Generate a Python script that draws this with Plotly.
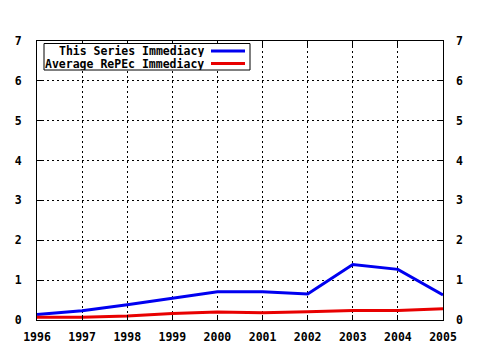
import plotly.graph_objects as go

# Yearly immediacy index values
years = [1996, 1997, 1998, 1999, 2000, 2001, 2002, 2003, 2004, 2005]
series_immediacy = [0.14, 0.23, 0.38, 0.55, 0.71, 0.71, 0.65, 1.39, 1.27, 0.63]
repec_immediacy = [0.07, 0.07, 0.10, 0.16, 0.20, 0.18, 0.21, 0.24, 0.24, 0.28]
y_ticks = [0, 1, 2, 3, 4, 5, 6, 7]

legend_labels = ["This Series Immediacy", "Average RePEc Immediacy"]
colors = ["#0000f0", "#e80000"]

FONT = dict(family="DejaVu Sans Mono", size=11.5, color="black", weight="bold")

fig = go.Figure()
fig.add_trace(go.Scatter(x=years, y=series_immediacy, mode="lines",
                         line=dict(color=colors[0], width=3), name=legend_labels[0]))
fig.add_trace(go.Scatter(x=years, y=repec_immediacy, mode="lines",
                         line=dict(color=colors[1], width=3), name=legend_labels[1]))
# invisible trace so the right-hand axis is drawn
fig.add_trace(go.Scatter(x=[years[0]], y=[0], yaxis="y2", mode="markers",
                         marker=dict(opacity=0), hoverinfo="skip", showlegend=False))

grid = dict(showgrid=True, gridcolor="black", gridwidth=1, griddash="2px,3px")

fig.update_layout(
    width=480, height=350,
    margin=dict(l=37, r=37, t=41, b=30, autoexpand=False),
    paper_bgcolor="white", plot_bgcolor="white",
    showlegend=False,
    font=FONT,
    xaxis=dict(range=[years[0], years[-1]], tickvals=years, ticks="inside", ticklen=5,
               tickcolor="black", showline=True, linecolor="black", linewidth=1,
               mirror="ticks", zeroline=False, ticklabelstandoff=6, automargin=False,
               **grid),
    yaxis=dict(range=[0, 7], tickvals=y_ticks, ticks="inside", ticklen=5,
               tickcolor="black", showline=True, linecolor="black", linewidth=1,
               mirror=True, zeroline=False, ticklabelstandoff=12, automargin=False,
               **grid),
    yaxis2=dict(range=[0, 7], tickvals=y_ticks, overlaying="y", side="right",
                ticks="inside", ticklen=5, tickcolor="black", showgrid=False,
                zeroline=False, showline=False, ticklabelstandoff=12, automargin=False),
)

# Legend drawn in gnuplot style: right-aligned text followed by the line sample
x0, y0, w, h = 37, 320, 406, 279
px = lambda v: (v - x0) / w
py = lambda v: (y0 - v) / h

fig.add_shape(type="rect", xref="paper", yref="paper",
              x0=px(44), x1=px(250), y0=py(70), y1=py(43.5),
              line=dict(color="black", width=1), fillcolor="white")
for i, (label, col) in enumerate(zip(legend_labels, colors)):
    row_y = 51 + i * 12.5
    fig.add_annotation(xref="paper", yref="paper", x=px(205), y=py(row_y),
                       text=label, showarrow=False, xanchor="right", yanchor="middle",
                       height=12, borderpad=0, font=FONT)
    fig.add_shape(type="line", xref="paper", yref="paper",
                  x0=px(211), x1=px(245), y0=py(row_y), y1=py(row_y),
                  line=dict(color=col, width=3))

fig.write_html("out.html")
